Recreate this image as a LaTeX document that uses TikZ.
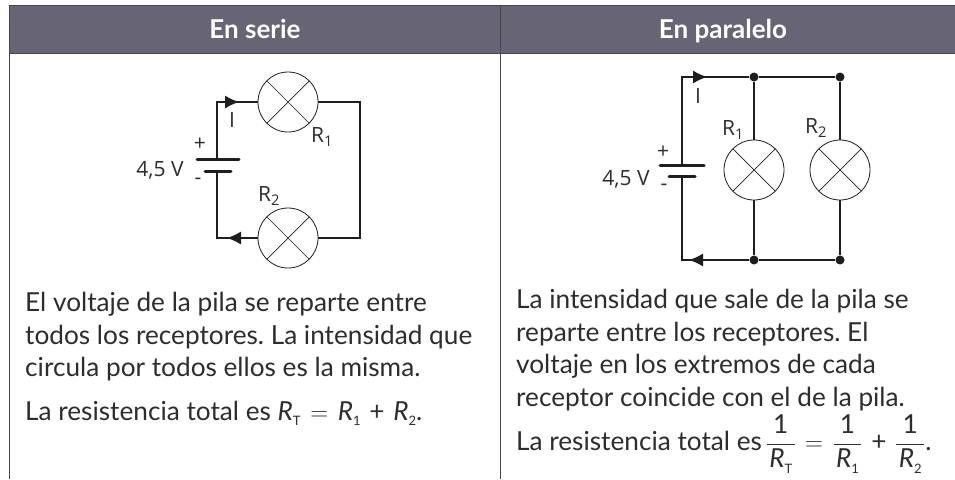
\documentclass[tikz,border=0pt]{standalone}
\usepackage{fontspec}
\setmainfont{Lato}
\newfontfamily\labelfont{Open Sans}
\usepackage{xcolor}
\definecolor{headgray}{RGB}{103,100,117}
\definecolor{linegray}{RGB}{70,70,75}
\definecolor{textgray}{RGB}{45,45,48}
\definecolor{wireblack}{RGB}{30,30,30}
\newcommand{\subs}[1]{\raisebox{-0.45ex}{\fontsize{13}{13}\selectfont #1}}
\newcommand{\resis}[1]{\textit{R}\subs{#1}}
\newcommand{\invres}[1]{$\displaystyle\frac{\hbox{1}}{\hbox{\kern2.5pt\resis{#1}\kern2.5pt}}$}
\usetikzlibrary{arrows.meta}
\tikzset{
    headbox/.style={fill=headgray, draw=linegray, line width=1pt},
    headtext/.style={text=white, anchor=base, font=\fontsize{26}{28}\selectfont\bfseries},
    rowline/.style={linegray, line width=1pt},
    wire/.style={wireblack, line width=1.2pt},
    plate/.style={wireblack, line width=3pt, line cap=round},
    current/.style={wire, -{Latex[length=14pt,width=13pt]}},
    lamp/.style={circle, draw=wireblack, fill=white, line width=0.8pt, minimum size=60pt, inner sep=0pt,
        path picture={\draw[wireblack, line width=0.7pt]
            (path picture bounding box.north west) -- (path picture bounding box.south east)
            (path picture bounding box.south west) -- (path picture bounding box.north east);}},
    joint/.style={circle, fill=wireblack, minimum size=9pt, inner sep=0pt},
    symb/.style={text=textgray, inner sep=0pt, font=\labelfont\fontsize{21}{22}\selectfont},
    para/.style={text=textgray, inner sep=0pt, anchor=north west, align=left,
        font=\frenchspacing\fontsize{26.2}{32.5}\selectfont},
    sumline/.style={para, anchor=base west},
}
\begin{document}
\begin{tikzpicture}[x=1pt, y=-1pt]
    \useasboundingbox (0,0) rectangle (955,479);
    \fill[white] (0,0) rectangle (955,479);

    % Table
    \fill[headgray] (9.5,5) rectangle (955,53.5);
    \draw[rowline] (955,5) -- (9.5,5) -- (9.5,479);
    \draw[rowline] (9.5,53.5) -- (955,53.5);
    \draw[rowline] (500.5,5) -- (500.5,479);
    \node[headtext] (head1) at (255,38) {En serie};
    \node[headtext] (head2) at (723,38) {En paralelo};

    % Series circuit
    \node[lamp] (lampA) at (288,102) {};
    \node[lamp] (lampB) at (288,238) {};
    \coordinate (topleft) at (217,102);
    \coordinate (botleft) at (217,238);
    \coordinate (plusA) at (217,159);
    \coordinate (minusA) at (217,171);
    \coordinate (tipA) at (239,102);
    \coordinate (tipB) at (227,238);
    \draw[wire] (plusA) -- (topleft) -- (lampA.west);
    \draw[wire] (lampA.east) -- (360,102) -- (360,238) -- (lampB.east);
    \draw[wire] (lampB.west) -- (botleft) -- (minusA);
    \draw[current] (topleft) -- (tipA);
    \draw[current] (lampB.west) -- (tipB);
    \draw[plate] (197,159) -- (239,159);
    \draw[plate] (205,171) -- (231,171);
    \node[symb] (iA) at (232,120) {I};
    \node[symb] (plA) at (200,144) {+};
    \node[symb] (voltA) at (160,170) {4,5 V};
    \node[symb] (miA) at (198,181) {-};
    \node[symb] (rA) at (322,137) {R\textsubscript{1}};
    \node[symb] (rB) at (269,196) {R\textsubscript{2}};

    % Parallel circuit
    \node[lamp] (lampC) at (754,170) {};
    \node[lamp] (lampD) at (840,170) {};
    \node[joint] (jointA) at (754,77) {};
    \node[joint] (jointB) at (840,77) {};
    \node[joint] (jointC) at (754,260) {};
    \node[joint] (jointD) at (840,260) {};
    \coordinate (cornerA) at (682,77);
    \coordinate (cornerB) at (682,260);
    \coordinate (plusB) at (682,165);
    \coordinate (minusB) at (682,176);
    \coordinate (tipC) at (707,77);
    \coordinate (tipD) at (689,260);
    \draw[wire] (plusB) -- (cornerA) -- (jointA) -- (jointB);
    \draw[wire] (minusB) -- (cornerB) -- (jointC) -- (jointD);
    \draw[wire] (jointA) -- (lampC) -- (jointC);
    \draw[wire] (jointB) -- (lampD) -- (jointD);
    \draw[current] (cornerA) -- (tipC);
    \draw[current] (jointC) -- (tipD);
    \draw[plate] (660,165) -- (704,165);
    \draw[plate] (669,176) -- (695,176);
    \node[symb] (iB) at (698,96) {I};
    \node[symb] (plB) at (663,152) {+};
    \node[symb] (voltB) at (626,179) {4,5 V};
    \node[symb] (miB) at (664,187) {-};
    \node[symb] (rC) at (733,130) {R\textsubscript{1}};
    \node[symb] (rD) at (816,128) {R\textsubscript{2}};

    % Texts
    \node[para] (textA) at (25,292) {El voltaje de la pila se reparte entre\\
        todos los receptores. La intensidad que\\
        circula por todos ellos es la misma.};
    \node[sumline] (sumA) at (25,420) {La resistencia total es \resis{T}\kern3pt{} $=$\kern3pt{} \resis{1}\kern2pt{} +\kern2pt{} \resis{2}.};
    \node[para] (textB) at (516,289) {La intensidad que sale de la pila se\\
        reparte entre los receptores. El\\
        voltaje en los extremos de cada\\
        receptor coincide con el de la pila.};
    \node[sumline] (sumB) at (516,450) {La resistencia total es\kern-3pt{} \invres{T}\kern2.5pt{} $=$\kern2.5pt{} \invres{1}\kern2pt{} +\kern2pt{} \invres{2}.};
\end{tikzpicture}
\end{document}
